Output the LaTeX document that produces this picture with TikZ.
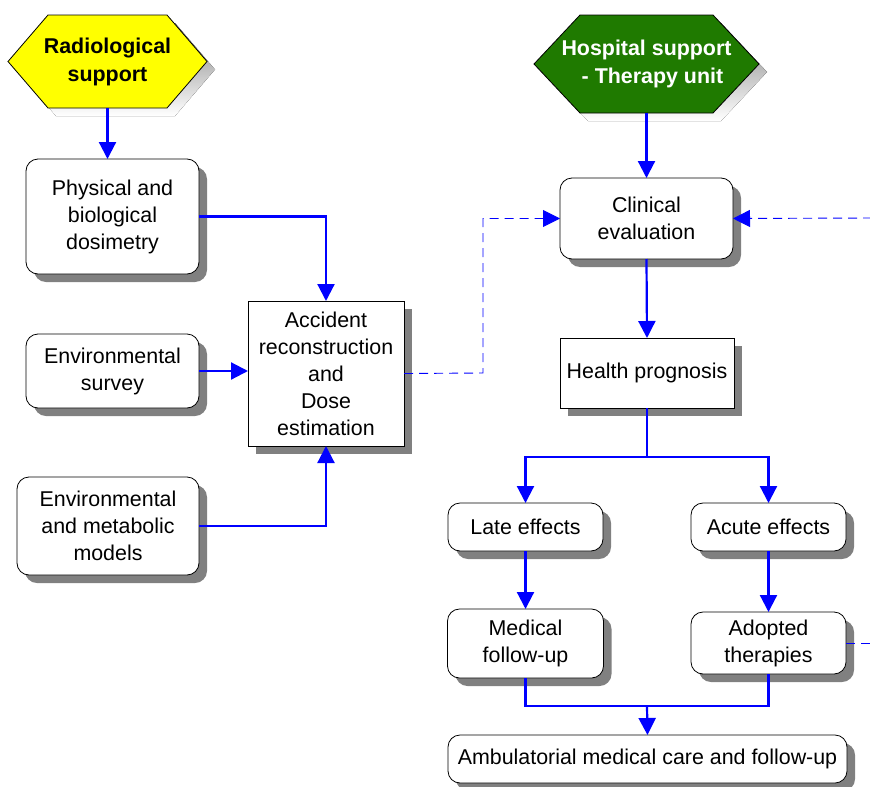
\documentclass[tikz,border=0pt]{standalone}
\usepackage{fontspec}
\setmainfont{Liberation Sans}
\usetikzlibrary{arrows.meta,shadows,backgrounds,calc}

\definecolor{hospgreen}{RGB}{31,122,0}
\definecolor{hexyellow}{RGB}{255,255,0}
\definecolor{shade}{RGB}{128,128,128}
\definecolor{flowblue}{RGB}{0,0,255}

% Hexagonal header: shadow, then filled outline, around a named label node
% #1 node, #2 chamfer width, #3 fill colour
\newcommand\hexheader[3]{%
  \fill[shade]
    ([shift={(8,8)}]#1.west) -- ([shift={(8+#2,8)}]#1.north west) --
    ([shift={(8-#2,8)}]#1.north east) -- ([shift={(8,8)}]#1.east) --
    ([shift={(8-#2,8)}]#1.south east) -- ([shift={(8+#2,8)}]#1.south west) -- cycle;
  \filldraw[fill=#3, draw=black, line width=0.8pt]
    (#1.west) -- ([xshift=#2pt]#1.north west) --
    ([xshift=-#2pt]#1.north east) -- (#1.east) --
    ([xshift=-#2pt]#1.south east) -- ([xshift=#2pt]#1.south west) -- cycle;
}

\tikzset{
  box/.style={draw=black, line width=0.8pt, fill=white, align=center,
    inner sep=2pt, outer sep=0pt, font=\fontsize{21.4}{27}\selectfont,
    drop shadow={shadow xshift=8pt, shadow yshift=-8pt, fill=shade, opacity=1}},
  roundbox/.style={box, rounded corners=12pt},
  squarebox/.style={box},
  hexlabel/.style={align=center, inner sep=0pt, outer sep=0pt,
    font=\fontsize{21.4}{28}\selectfont\bfseries},
  flow/.style={draw=flowblue, line width=2.2pt},
  flowarrow/.style={flow, -{Triangle[length=17pt,width=17pt]}},
  feedback/.style={draw=flowblue, line width=0.9pt, dash pattern=on 9pt off 6pt},
  feedbackarrow/.style={feedback, -{Triangle[length=17pt,width=17pt]}}
}

\begin{document}
\begin{tikzpicture}[x=1pt, y=-1pt]
\useasboundingbox (0,0) rectangle (870,787);

% Headers
\node[hexlabel, minimum width=199pt, minimum height=93pt] (rad) at (107.5,61.5)
  {Radiological\\support};
\node[hexlabel, text=white, minimum width=225pt, minimum height=98pt] (hosp) at (646.5,64)
  {Hospital support\\\ \ - Therapy unit};
\begin{scope}[on background layer]
  \hexheader{rad}{40}{hexyellow}
  \hexheader{hosp}{46}{hospgreen}
\end{scope}

% Radiological side
\node[roundbox, minimum width=173pt, minimum height=115pt] (phys) at (112.5,216.5)
  {Physical and\\biological\\dosimetry};
\node[roundbox, minimum width=173pt, minimum height=74pt] (envs) at (112.5,371)
  {Environmental\\survey};
\node[roundbox, minimum width=182pt, minimum height=98pt] (envm) at (108,526)
  {Environmental\\and metabolic\\models};
\node[squarebox, minimum width=156pt, minimum height=145pt] (acc) at (326,373.5)
  {Accident\\reconstruction\\and\\Dose\\estimation};

% Hospital side
\node[roundbox, minimum width=173pt, minimum height=81pt] (clin) at (646.5,218.5)
  {Clinical\\evaluation};
\node[squarebox, minimum width=174pt, minimum height=70pt] (health) at (647,373)
  {Health prognosis};
\node[roundbox, minimum width=155pt, minimum height=48pt] (late) at (525.5,527)
  {Late effects};
\node[roundbox, minimum width=155pt, minimum height=48pt] (acute) at (768.5,527)
  {Acute effects};
\node[roundbox, minimum width=156pt, minimum height=69pt] (med) at (525.5,643.5)
  {Medical\\follow-up};
\node[roundbox, minimum width=155pt, minimum height=62pt] (adopt) at (768.5,643)
  {Adopted\\therapies};
\node[roundbox, minimum width=399pt, minimum height=48pt] (amb) at (647.5,759)
  {Ambulatorial medical care and follow-up};

% Junction points
\coordinate (dl) at (483,373);
\coordinate (dr) at (872,218);
\coordinate (br) at (647,457);
\coordinate (jn) at (647,706);

% Radiological flows
\draw[flowarrow] (rad.south) -- (rad.south |- phys.north);
\draw[flowarrow] (phys.east) -| (acc.north);
\draw[flowarrow] (envs.east) -- (envs.east -| acc.west);
\draw[flowarrow] (envm.east) -| (acc.south);

% Feedback into clinical evaluation
\draw[feedbackarrow] (acc.east) -- (dl) |- (clin.west);
\draw[feedbackarrow] (dr) -- (clin.east);
\draw[feedback] (adopt.east) -- (adopt.east -| dr);

% Hospital flows
\draw[flowarrow] (hosp.south) -- (clin.north);
\draw[flowarrow] (clin.south) -- (health.north);
\draw[flow] (health.south) -- (br);
\draw[flowarrow] (br) -| (late.north);
\draw[flowarrow] (br) -| (acute.north);
\draw[flowarrow] (late.south) -- (med.north);
\draw[flowarrow] (acute.south) -- (adopt.north);
\draw[flow] (med.south) |- (jn);
\draw[flow] (adopt.south) |- (jn);
\draw[flowarrow] (jn) -- (amb.north);
\end{tikzpicture}
\end{document}
